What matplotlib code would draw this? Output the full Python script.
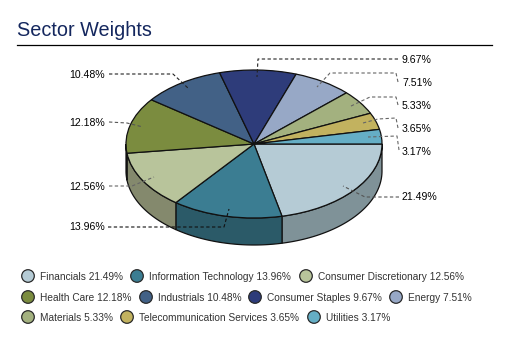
import numpy as np
import matplotlib
matplotlib.use("Agg")
import matplotlib.pyplot as plt
from matplotlib.patches import Circle

plt.rcParams['font.family'] = ['Liberation Sans', 'DejaVu Sans']

W, H = 505, 358

sectors = ["Financials", "Information Technology", "Consumer Discretionary", "Health Care",
           "Industrials", "Consumer Staples", "Energy", "Materials",
           "Telecommunication Services", "Utilities"]
weights = [21.49, 13.96, 12.56, 12.18, 10.48, 9.67, 7.51, 5.33, 3.65, 3.17]
top_colors = ["#B5CBD5", "#3B7D92", "#B8C49B", "#7B8C3F", "#426186",
              "#2E3C7A", "#97A8C6", "#A3B17F", "#C2B25F", "#65AEC5"]
wall_colors = ["#7F9298", "#2B5A68", "#84896D", "#596530", "#2F4660",
               "#212B58", "#6D798F", "#75805B", "#8C8045", "#497D8E"]

# label text, y of text, leader points in pixels, outer part colour
right_labels = [("9.67%", 60, [(398, 59), (258, 59), (257, 77)], "#222222"),
                ("7.51%", 83, [(398, 82), (396, 73), (330, 73), (317, 87)], "#666666"),
                ("5.33%", 106, [(398, 105), (396, 97), (370, 97), (349, 107)], "#666666"),
                ("3.65%", 129, [(398, 128), (396, 118), (378, 119), (363, 123)], "#666666"),
                ("3.17%", 152, [(399, 150), (397, 136), (368, 137)], "#666666"),
                ("21.49%", 197.5, [(399, 197), (365, 197), (343, 186)], "#555555")]
left_labels = [("10.48%", 74.5, [(109, 74), (173, 74), (189, 89)], "#222222"),
               ("12.18%", 122.5, [(109, 122), (127, 123), (143, 127)], "#555555"),
               ("12.56%", 186.5, [(109, 186), (132, 186), (154, 177)], "#666666"),
               ("13.96%", 227.5, [(108, 227), (224, 227), (229, 209)], "#111111")]

# legend rows: marker x and row y
legend_x = [28, 137, 306, 28, 146, 255, 396, 28, 127, 314]
legend_y = [276, 276, 276, 297, 297, 297, 297, 317, 317, 317]

cx, cy, rx, ry, depth = 254, 144, 128, 74, 27

fig = plt.figure(figsize=(W / 100, H / 100), dpi=100, facecolor="white")

# pie gets its own axes, squashed to an ellipse
ax = fig.add_axes([(cx - rx) / W, 1 - (cy + ry) / H, 2 * rx / W, 2 * ry / H])
d = depth / ry
cum = np.cumsum([0] + weights) / sum(weights) * 2 * np.pi
for i in range(len(weights)):
    a0, a1 = cum[i], min(cum[i + 1], np.pi)
    if a0 >= np.pi:
        continue
    t = np.linspace(a0, a1, 60)
    xs = np.concatenate([np.cos(t), np.cos(t[::-1])])
    ys = np.concatenate([-np.sin(t), -np.sin(t[::-1]) - d])
    ax.fill(xs, ys, facecolor=wall_colors[i], edgecolor="#111111", linewidth=0.9, clip_on=False, zorder=1)
wedges, _ = ax.pie(weights, colors=top_colors, startangle=0, counterclock=False, radius=1,
                   wedgeprops=dict(edgecolor="#111111", linewidth=0.9, clip_on=False, zorder=2))
ax.set_aspect("auto")
ax.set_xlim(-1, 1)
ax.set_ylim(-1, 1)
ax.axis("off")

# overlay in pixel coordinates
ov = fig.add_axes([0, 0, 1, 1], facecolor="none")
ov.set_xlim(0, W)
ov.set_ylim(H, 0)
ov.axis("off")

ov.text(17, 35.5, "Sector Weights", fontsize=14.3, color="#14275E", va="baseline", ha="left")
ov.plot([17, 492], [45, 45], color="black", linewidth=0.9)

for txt, y, pts, col in right_labels:
    px, py = zip(*pts)
    ov.plot(px, py, color=col, linewidth=0.8, linestyle=(0, (3, 2.2)), zorder=3)
    ov.text(402, y, txt, fontsize=7.6, color="black", va="center", ha="left")
for txt, y, pts, col in left_labels:
    px, py = zip(*pts)
    ov.plot(px, py, color=col, linewidth=0.8, linestyle=(0, (3, 2.2)), zorder=3)
    ov.text(105, y, txt, fontsize=7.6, color="black", va="center", ha="right")

for name, w, c, x, y in zip(sectors, weights, top_colors, legend_x, legend_y):
    ov.add_patch(Circle((x, y), 6.3, facecolor=c, edgecolor="#2A2A2A", linewidth=0.9))
    ov.text(x + 12, y + 0.7, f"{name} {w:.2f}%", fontsize=7.3, color="#333333", va="center", ha="left")

fig.savefig("out.png", dpi=100)
